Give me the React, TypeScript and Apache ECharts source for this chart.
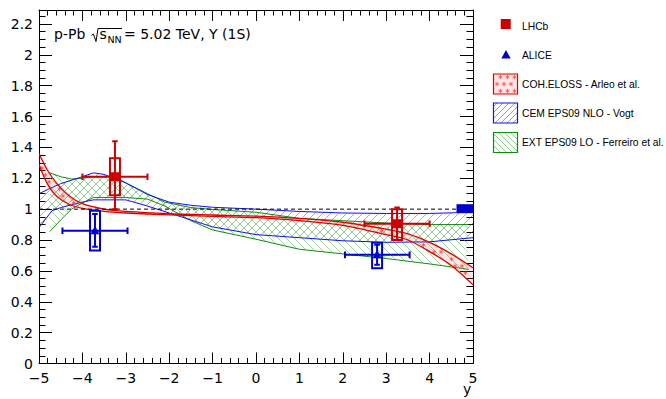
import React, { useEffect, useRef } from "react";
import * as echarts from "echarts";

// ---------------- data ----------------
const xMin = -5;
const xMax = 5;
const yMin = 0;
const yMax = 2.29;

// LHCb measurements
const lhcbX = [-3.25, 3.25];
const lhcbY = [1.21, 0.905];
const lhcbXLo = [-4.0, 2.5];
const lhcbXHi = [-2.5, 4.0];
const lhcbStatLo = [1.0, 0.8];
const lhcbStatHi = [1.44, 1.01];
const lhcbSystLo = [1.09, 0.8];
const lhcbSystHi = [1.33, 1.0];

// ALICE measurements
const aliceX = [-3.71, 2.79];
const aliceY = [0.86, 0.704];
const aliceXLo = [-4.46, 2.05];
const aliceXHi = [-2.96, 3.54];
const aliceStatLo = [0.757, 0.64];
const aliceStatHi = [0.968, 0.77];
const aliceSystLo = [0.732, 0.617];
const aliceSystHi = [0.989, 0.783];

// global uncertainty box
const globalBoxX = [4.62, 5];
const globalBoxY = [0.974, 1.032];

// reference line
const refX = [-5, 5];
const refY = [1, 1];

// COH.ELOSS - Arleo et al.
const cohX = [-5, -4.8, -4.6, -4.3, -4, -3.5, -3, -2, -1, 0, 1, 2, 3, 3.5, 4, 4.5, 5];
const cohUp = [1.36, 1.25, 1.17, 1.085, 1.035, 1.0, 0.985, 0.97, 0.962, 0.955, 0.94, 0.915, 0.87, 0.84, 0.785, 0.71, 0.62];
const cohLo = [1.29, 1.16, 1.085, 1.03, 1.005, 0.985, 0.975, 0.963, 0.953, 0.945, 0.925, 0.895, 0.835, 0.8, 0.725, 0.635, 0.51];

// CEM EPS09 NLO - Vogt
const cemX = [-5, -4.7, -4.5, -4, -3.75, -3.5, -3, -2.5, -2, -1.5, -1, 0, 1, 2, 3, 4, 5];
const cemUp = [1.1, 1.14, 1.165, 1.21, 1.235, 1.225, 1.17, 1.095, 1.045, 1.025, 1.012, 1.0, 0.985, 0.975, 0.972, 0.972, 0.98];
const cemLo = [0.88, 0.99, 1.01, 1.045, 1.06, 1.06, 1.06, 1.02, 0.975, 0.93, 0.885, 0.835, 0.815, 0.795, 0.785, 0.788, 0.815];

// EXT EPS09 LO - Ferreiro et al.
const extX = [-4.75, -4.5, -4.25, -4, -3.75, -3.25, -3, -2.5, -2.1, -1.5, -1, 0, 1, 2, 3, 4, 4.9];
const extUp = [1.235, 1.21, 1.195, 1.2, 1.21, 1.21, 1.17, 1.1, 1.045, 1.01, 0.998, 0.98, 0.94, 0.925, 0.91, 0.9, 0.9];
const extLo = [0.855, 0.93, 1.0, 1.04, 1.075, 1.075, 1.075, 1.065, 1.02, 0.925, 0.865, 0.805, 0.74, 0.71, 0.68, 0.645, 0.61];

const legendNames = ["LHCb", "ALICE", "COH.ELOSS - Arleo et al.", "CEM EPS09 NLO - Vogt", "EXT EPS09 LO - Ferreiro et al."];

// ---------------- helpers ----------------
type Pt = number[];

const RED = "#cc0000";
const BLUE = "#0000cc";
const BAND_RED = "#e00000";
const BAND_BLUE = "#1010ee";
const BAND_GREEN = "#138a13";
const AXIS_FONT = "DejaVu Sans";
const LEG_FONT = "Liberation Sans";

function interp(P: Pt[], x: number): number {
  if (x <= P[0][0]) return P[0][1];
  for (let i = 1; i < P.length; i++) {
    if (x <= P[i][0]) {
      const t = (x - P[i - 1][0]) / (P[i][0] - P[i - 1][0] || 1);
      return P[i - 1][1] + t * (P[i][1] - P[i - 1][1]);
    }
  }
  return P[P.length - 1][1];
}

function hatchLines(U: Pt[], L: Pt[], dir: number, step: number, style: any) {
  const x0 = U[0][0];
  const x1 = U[U.length - 1][0];
  let ymin = Infinity;
  let ymax = -Infinity;
  for (const p of U.concat(L)) {
    ymin = Math.min(ymin, p[1]);
    ymax = Math.max(ymax, p[1]);
  }
  const cMin = dir > 0 ? x0 + ymin : ymin - x1;
  const cMax = dir > 0 ? x1 + ymax : ymax - x0;
  const out: any[] = [];
  for (let c = Math.ceil(cMin / step) * step; c <= cMax; c += step) {
    let seg: number[] | null = null;
    for (let x = x0; x <= x1 + 1e-6; x += 0.5) {
      const y = dir > 0 ? c - x : x + c;
      const inside = y >= interp(U, x) && y <= interp(L, x);
      if (inside) {
        if (!seg) seg = [x, y, x, y];
        else {
          seg[2] = x;
          seg[3] = y;
        }
      } else if (seg) {
        out.push(seg);
        seg = null;
      }
    }
    if (seg) out.push(seg);
  }
  return out.map((s) => ({
    type: "line",
    silent: true,
    shape: { x1: s[0], y1: s[1], x2: s[2], y2: s[3] },
    style,
  }));
}

function starMarks(U: Pt[], L: Pt[], step: number, r: number, style: any) {
  const x0 = U[0][0];
  const x1 = U[U.length - 1][0];
  let ymin = Infinity;
  let ymax = -Infinity;
  for (const p of U.concat(L)) {
    ymin = Math.min(ymin, p[1]);
    ymax = Math.max(ymax, p[1]);
  }
  const out: any[] = [];
  for (let k = Math.floor(ymin / step); k * step <= ymax; k++) {
    const y = k * step;
    const off = (Math.abs(k) % 2) * (step / 2);
    for (let x = Math.floor(x0 / step) * step + off; x <= x1; x += step) {
      if (x - r < x0 || x + r > x1) continue;
      if (y - r >= interp(U, x) && y + r <= interp(L, x)) {
        const segs = [
          [x, y - r, x, y + r],
          [x - r * 0.87, y - r * 0.5, x + r * 0.87, y + r * 0.5],
          [x - r * 0.87, y + r * 0.5, x + r * 0.87, y - r * 0.5],
        ];
        for (const s of segs)
          out.push({ type: "line", silent: true, shape: { x1: s[0], y1: s[1], x2: s[2], y2: s[3] }, style });
      }
    }
  }
  return out;
}

function bandSeries(xs: number[], up: number[], lo: number[], kind: string, z: number) {
  return {
    type: "custom",
    coordinateSystem: "cartesian2d",
    xAxisIndex: 0,
    yAxisIndex: 0,
    silent: true,
    clip: true,
    z,
    data: [[xs[0], up[0]]],
    renderItem: (_p: any, api: any) => {
      const U = xs.map((x, i) => api.coord([x, up[i]]));
      const L = xs.map((x, i) => api.coord([x, lo[i]]));
      const children: any[] = [];
      if (kind === "red") {
        children.push({
          type: "polygon",
          shape: { points: U.concat(L.slice().reverse()) },
          style: { fill: "rgba(255,70,70,0.14)" },
        });
        children.push(...starMarks(U, L, 7, 2.2, { stroke: "#ff3c3c", lineWidth: 0.8, opacity: 0.85 }));
        children.push({ type: "polyline", shape: { points: U, smooth: 0.3 }, style: { stroke: BAND_RED, lineWidth: 1.3, fill: null } });
        children.push({ type: "polyline", shape: { points: L, smooth: 0.3 }, style: { stroke: BAND_RED, lineWidth: 1.3, fill: null } });
      } else if (kind === "blue") {
        children.push(...hatchLines(U, L, 1, 8, { stroke: "#3c3cff", lineWidth: 0.8, opacity: 0.6 }));
        children.push({ type: "polyline", shape: { points: U }, style: { stroke: BAND_BLUE, lineWidth: 1, fill: null } });
        children.push({ type: "polyline", shape: { points: L }, style: { stroke: BAND_BLUE, lineWidth: 1, fill: null } });
      } else {
        children.push(...hatchLines(U, L, -1, 8, { stroke: "#3aa43a", lineWidth: 0.8, opacity: 0.6 }));
        children.push({ type: "polyline", shape: { points: U }, style: { stroke: BAND_GREEN, lineWidth: 1, fill: null } });
        children.push({ type: "polyline", shape: { points: L }, style: { stroke: BAND_GREEN, lineWidth: 1, fill: null } });
      }
      return { type: "group", children };
    },
  };
}

function errSeries(
  xs: number[], ys: number[], xlo: number[], xhi: number[],
  slo: number[], shi: number[], blo: number[], bhi: number[],
  color: string, marker: string
) {
  return {
    type: "custom",
    coordinateSystem: "cartesian2d",
    xAxisIndex: 0,
    yAxisIndex: 0,
    silent: true,
    clip: true,
    z: 10,
    data: xs.map((x, i) => [x, ys[i], xlo[i], xhi[i], slo[i], shi[i], blo[i], bhi[i]]),
    renderItem: (_p: any, api: any) => {
      const x = api.value(0);
      const y = api.value(1);
      const c = api.coord([x, y]);
      const xl = api.coord([api.value(2), y])[0];
      const xr = api.coord([api.value(3), y])[0];
      const sBot = api.coord([x, api.value(4)])[1];
      const sTop = api.coord([x, api.value(5)])[1];
      const bBot = api.coord([x, api.value(6)])[1];
      const bTop = api.coord([x, api.value(7)])[1];
      const st = { stroke: color, lineWidth: 2, fill: null };
      const hw = 5;
      const capH = 3.3;
      const capV = 2.8;
      const ch: any[] = [
        { type: "rect", shape: { x: c[0] - hw, y: bTop, width: 2 * hw, height: bBot - bTop }, style: st },
        { type: "line", shape: { x1: xl, y1: c[1], x2: xr, y2: c[1] }, style: st },
        { type: "line", shape: { x1: xl, y1: c[1] - capH, x2: xl, y2: c[1] + capH }, style: st },
        { type: "line", shape: { x1: xr, y1: c[1] - capH, x2: xr, y2: c[1] + capH }, style: st },
        { type: "line", shape: { x1: c[0], y1: sTop, x2: c[0], y2: sBot }, style: st },
        { type: "line", shape: { x1: c[0] - capV, y1: sTop, x2: c[0] + capV, y2: sTop }, style: st },
        { type: "line", shape: { x1: c[0] - capV, y1: sBot, x2: c[0] + capV, y2: sBot }, style: st },
      ];
      if (marker === "square") {
        ch.push({ type: "rect", shape: { x: c[0] - 4.5, y: c[1] - 4.5, width: 9, height: 9 }, style: { fill: color } });
      } else {
        ch.push({
          type: "polygon",
          shape: { points: [[c[0], c[1] - 5], [c[0] + 4.5, c[1] + 3.5], [c[0] - 4.5, c[1] + 3.5]] },
          style: { fill: color },
        });
      }
      return { type: "group", children: ch };
    },
  };
}

function legendGraphics() {
  const els: any[] = [];
  const tx = 522;
  const rowY = [26.5, 55, 84, 113, 142.5];
  const txt = (t: string, y: number) => ({
    type: "text",
    x: tx,
    y,
    silent: true,
    style: {
      text: t, fill: "#000", fontSize: 10.3, fontFamily: LEG_FONT,
      align: "left", verticalAlign: "middle", textAlign: "left", textVerticalAlign: "middle",
    },
  });
  // LHCb
  els.push({ type: "rect", silent: true, shape: { x: 500.7, y: 19, width: 10, height: 10 }, style: { fill: RED } });
  els.push(txt(legendNames[0], rowY[0]));
  // ALICE
  els.push({
    type: "polygon", silent: true,
    shape: { points: [[506, 50], [510.7, 58.5], [501.3, 58.5]] },
    style: { fill: BLUE },
  });
  els.push(txt(legendNames[1], rowY[1]));
  const bx = 493.5;
  const bw = 24;
  const bh = 20;
  // COH
  {
    const y0 = rowY[2] - bh / 2;
    const U = [[bx, y0], [bx + bw, y0]];
    const L = [[bx, y0 + bh], [bx + bw, y0 + bh]];
    els.push({ type: "rect", silent: true, shape: { x: bx, y: y0, width: bw, height: bh }, style: { fill: "rgba(255,70,70,0.14)" } });
    els.push(...starMarks(U, L, 7, 2.2, { stroke: "#ff3c3c", lineWidth: 0.8, opacity: 0.85 }));
    els.push({ type: "rect", silent: true, shape: { x: bx, y: y0, width: bw, height: bh }, style: { fill: null, stroke: BAND_RED, lineWidth: 1.2 } });
    els.push(txt(legendNames[2], rowY[2]));
  }
  // CEM
  {
    const y0 = rowY[3] - bh / 2;
    const U = [[bx, y0], [bx + bw, y0]];
    const L = [[bx, y0 + bh], [bx + bw, y0 + bh]];
    els.push(...hatchLines(U, L, 1, 6, { stroke: "#3c3cff", lineWidth: 0.8, opacity: 0.7 }));
    els.push({ type: "rect", silent: true, shape: { x: bx, y: y0, width: bw, height: bh }, style: { fill: null, stroke: BAND_BLUE, lineWidth: 1.2 } });
    els.push(txt(legendNames[3], rowY[3]));
  }
  // EXT
  {
    const y0 = rowY[4] - bh / 2;
    const U = [[bx, y0], [bx + bw, y0]];
    const L = [[bx, y0 + bh], [bx + bw, y0 + bh]];
    els.push(...hatchLines(U, L, -1, 6, { stroke: "#3aa43a", lineWidth: 0.8, opacity: 0.7 }));
    els.push({ type: "rect", silent: true, shape: { x: bx, y: y0, width: bw, height: bh }, style: { fill: null, stroke: BAND_GREEN, lineWidth: 1.2 } });
    els.push(txt(legendNames[4], rowY[4]));
  }
  return els;
}

function titleGraphics() {
  const base = (t: string, x: number, y: number, size: number) => ({
    type: "text",
    x,
    y,
    silent: true,
    style: {
      text: t, fill: "#000", fontSize: size, fontFamily: AXIS_FONT,
      align: "left", verticalAlign: "middle", textAlign: "left", textVerticalAlign: "middle",
    },
  });
  return [
    base("p-Pb", 54, 34, 14),
    {
      type: "polyline", silent: true,
      shape: { points: [[91.5, 35.5], [93.5, 34], [96, 41.5], [98, 28.5], [122, 28.5]] },
      style: { stroke: "#000", lineWidth: 1, fill: null },
    },
    base("s", 99.5, 34, 14),
    base("NN", 107.5, 39.5, 9.5),
    base("= 5.02 TeV, \u03A5 (1S)", 124, 34, 14),
    base("y", 463, 389, 14),
  ];
}

const axisCommon = {
  type: "value",
  splitLine: { show: false },
  minorSplitLine: { show: false },
  axisLine: { show: true, onZero: false, lineStyle: { color: "#000", width: 1 } },
};

export default function App() {
  const ref = useRef<HTMLDivElement>(null);
  useEffect(() => {
    if (!ref.current) return;
    const chart = echarts.init(ref.current, null, { renderer: "svg" });
    const minus = (v: number) => (v < 0 ? "\u2212" + Math.abs(v) : String(v));
    const option: any = {
      animation: false,
      backgroundColor: "#fff",
      grid: { left: 39, top: 10, width: 434, height: 353.5, containLabel: false },
      xAxis: [
        {
          ...axisCommon, min: xMin, max: xMax, interval: 1, position: "bottom",
          axisTick: { show: true, inside: true, length: 11, lineStyle: { color: "#000" } },
          minorTick: { show: true, splitNumber: 5, length: 5.5, lineStyle: { color: "#000" } },
          axisLabel: { show: true, margin: 7, color: "#000", fontSize: 14, fontFamily: AXIS_FONT, formatter: minus },
        },
        {
          ...axisCommon, min: xMin, max: xMax, interval: 1, position: "top",
          axisTick: { show: true, inside: true, length: 11, lineStyle: { color: "#000" } },
          minorTick: { show: true, splitNumber: 5, length: 5.5, lineStyle: { color: "#000" } },
          axisLabel: { show: false },
        },
      ],
      yAxis: [
        {
          ...axisCommon, min: yMin, max: yMax, interval: 0.2, position: "left",
          axisTick: { show: true, inside: true, length: 13, lineStyle: { color: "#000" } },
          minorTick: { show: true, splitNumber: 4, length: 6.5, lineStyle: { color: "#000" } },
          axisLabel: {
            show: true, margin: 6, color: "#000", fontSize: 14, fontFamily: AXIS_FONT, showMaxLabel: false,
            formatter: (v: number) => String(Math.round(v * 100) / 100),
          },
        },
        {
          ...axisCommon, min: yMin, max: yMax, interval: 0.2, position: "right",
          axisTick: { show: true, inside: true, length: 13, lineStyle: { color: "#000" } },
          minorTick: { show: true, splitNumber: 4, length: 6.5, lineStyle: { color: "#000" } },
          axisLabel: { show: false },
        },
      ],
      series: [
        bandSeries(extX, extUp, extLo, "green", 2),
        bandSeries(cemX, cemUp, cemLo, "blue", 3),
        bandSeries(cohX, cohUp, cohLo, "red", 4),
        {
          type: "line",
          xAxisIndex: 0,
          yAxisIndex: 0,
          data: refX.map((x, i) => [x, refY[i]]),
          symbol: "none",
          silent: true,
          z: 5,
          lineStyle: { color: "#000", width: 1, type: [4, 3] },
        },
        {
          type: "custom",
          coordinateSystem: "cartesian2d",
          xAxisIndex: 0,
          yAxisIndex: 0,
          silent: true,
          z: 6,
          data: [[globalBoxX[0], globalBoxY[0], globalBoxX[1], globalBoxY[1]]],
          renderItem: (_p: any, api: any) => {
            const a = api.coord([api.value(0), api.value(1)]);
            const b = api.coord([api.value(2), api.value(3)]);
            return {
              type: "rect",
              shape: { x: a[0], y: b[1], width: b[0] - a[0], height: a[1] - b[1] },
              style: { fill: BLUE },
            };
          },
        },
        errSeries(lhcbX, lhcbY, lhcbXLo, lhcbXHi, lhcbStatLo, lhcbStatHi, lhcbSystLo, lhcbSystHi, RED, "square"),
        errSeries(aliceX, aliceY, aliceXLo, aliceXHi, aliceStatLo, aliceStatHi, aliceSystLo, aliceSystHi, BLUE, "triangle"),
      ],
      graphic: [...titleGraphics(), ...legendGraphics()],
    };
    chart.setOption(option);
    return () => chart.dispose();
  }, []);
  return (
    <div
      ref={ref}
      style={{ position: "fixed", left: 0, top: 0, width: 666, height: 399, background: "#fff" }}
    />
  );
}
